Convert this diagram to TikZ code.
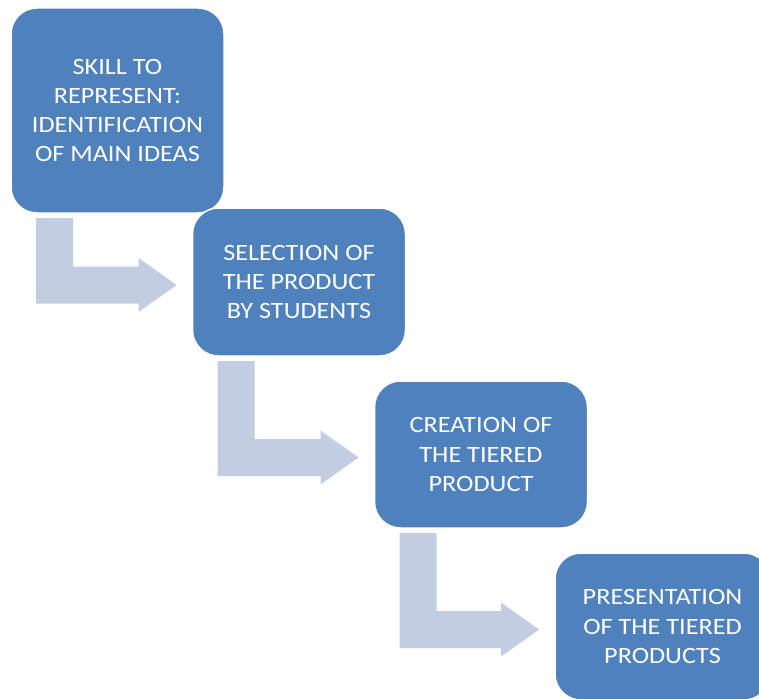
\documentclass[tikz,border=0pt]{standalone}
\usepackage{fontspec}
\setmainfont[FakeStretch=1.12]{Carlito}
\usetikzlibrary{calc}

\definecolor{stageblue}{HTML}{4F81BD}
\definecolor{bendgray}{HTML}{C3CDE2}

\tikzset{
  stage/.style={fill=stageblue, draw=white, line width=1.5pt, rounded corners=26pt,
    text=white, align=center, inner sep=0pt, outer sep=0pt, minimum width=213pt,
    font=\fontsize{23.4}{29.3}\selectfont},
  bentfill/.style={fill=bendgray}
}

% bent arrow: down from under one stage, then right towards the next
\newcommand{\bentarrow}[2]{%
  \fill[bentfill] let \p1=(#1.south west), \p2=(#2.west) in
    (\x1+25pt,\y1-5pt) -- (\x1+62pt,\y1-5pt) -- (\x1+62pt,\y2+15.5pt)
    -- (\x2-54pt,\y2+15.5pt) -- (\x2-54pt,\y2+24pt) -- (\x2-16pt,\y2-3pt)
    -- (\x2-54pt,\y2-30pt) -- (\x2-54pt,\y2-21.5pt) -- (\x1+25pt,\y2-21.5pt) -- cycle;
}

\begin{document}
\begin{tikzpicture}[x=1pt, y=-1pt]
    \fill[white] (0,0) rectangle (759,698);
    \useasboundingbox (0,0) rectangle (759,698);
    \clip (0,0) rectangle (759,698);

    % the four stages
    \node[stage, minimum height=205pt] (skill) at (117.5,110.5)
        {SKILL TO\\REPRESENT:\\IDENTIFICATION\\OF MAIN IDEAS};
    \node[stage, minimum height=148pt] (select) at (299,282)
        {SELECTION OF\\THE PRODUCT\\BY STUDENTS};
    \node[stage, minimum height=147pt] (create) at (481,454.5)
        {CREATION OF\\THE TIERED\\PRODUCT};
    \node[stage, minimum height=147pt, minimum width=215pt] (present) at (662.5,626.5)
        {PRESENTATION\\OF THE TIERED\\PRODUCTS};

    % the arrows between them
    \bentarrow{skill}{select}
    \bentarrow{select}{create}
    \bentarrow{create}{present}
\end{tikzpicture}
\end{document}
